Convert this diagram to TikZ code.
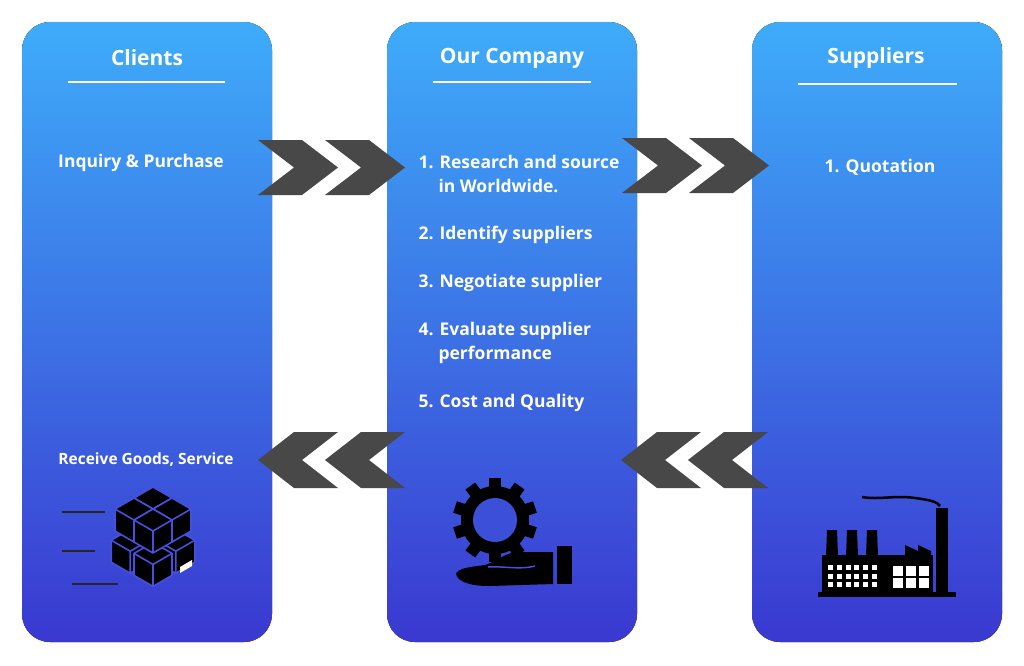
\documentclass[tikz,border=0pt]{standalone}
\usepackage{fontspec}
\setmainfont{Open Sans}
\begin{document}
\begin{tikzpicture}[x=1pt,y=-1pt,
  panel/.style={rounded corners=28pt,top color=topb,bottom color=botb,draw=none},
  chev/.style={fill=chevc,draw=none},
  title/.style={text=white,font=\fontsize{21}{24}\selectfont\bfseries},
  body/.style={text=white,font=\fontsize{17.5}{20}\selectfont\bfseries,anchor=west},
  uline/.style={white,line width=2.5pt},
  cedge/.style={draw=edgec,line width=1.6pt,line join=round},
  cube/.pic={\fill[black,cedge] (0,0)--(19,11)--(19,33)--(0,44)--(-19,33)--(-19,11)--cycle;
             \draw[cedge] (-19,11)--(0,22)--(19,11) (0,22)--(0,44);}
]
\definecolor{topb}{RGB}{62,172,250}
\definecolor{botb}{RGB}{58,56,208}
\definecolor{chevc}{RGB}{72,72,72}
\definecolor{edgec}{RGB}{70,80,220}
\useasboundingbox (0,0) rectangle (1024,665);
\fill[white] (0,0) rectangle (1024,665);
\fill[panel] (22,22) rectangle (272,642);
\fill[panel] (387,22) rectangle (637,642);
\fill[panel] (752,22) rectangle (1002,642);
% titles
\node[title] (tc) at (147,58) {Clients};
\node[title] (to) at (512,58) {Our Company};
\node[title] (ts) at (876,58) {Suppliers};
\draw[uline] (68,82)--(225,82);
\draw[uline] (433,82)--(591,82);
\draw[uline] (798,84)--(957,84);
% chevrons
\foreach \x/\y in {258/140,325/140,622/138,689/138}{
  \fill[chev] (\x,\y)--++(44,0)--++(36,27.5)--++(-36,27.5)--++(-44,0)--++(36,-27.5)--cycle;}
\foreach \x/\y in {405/432,338/432,768/432,701/432}{
  \fill[chev] (\x,\y)--++(-44,0)--++(-36,28)--++(36,28)--++(44,0)--++(-36,-28)--cycle;}
% texts
\node[body,anchor=center] (ip) at (141,163) {Inquiry \& Purchase};
\node[body] (m1) at (415,162) {1. Research and source};
\node[body] (m1b) at (435,186) {in Worldwide.};
\node[body] (m2) at (415,235) {2. Identify suppliers};
\node[body] (m3) at (415,283) {3. Negotiate supplier};
\node[body] (m4) at (415,331) {4. Evaluate supplier};
\node[body] (m4b) at (435,355) {performance};
\node[body] (m5) at (415,403) {5. Cost and Quality};
\node[body,anchor=center] (q) at (880,167) {1. Quotation};
\node[body,anchor=center,font=\fontsize{15.5}{18}\selectfont\bfseries] (rg) at (146,460) {Receive Goods, Service};
% boxes icon
\draw[line width=2pt,black!85] (62,512)--(105,512) (62,551)--(95,551) (72,584)--(118,584);
\begin{scope}[shift={(153,516)},scale=1.2]
\foreach \i/\j in {0/0,1/0,0/1,1/1}{
  \pic at ({19*\i-19*\j},{11*\i+11*\j}) {cube};}
\end{scope}
\fill[white!90!yellow] (180,567)--(192,560)--(192,566)--(180,573)--cycle;
\foreach \i/\j in {0/0,1/0,0/1,1/1}{
  \pic at ({153+19*\i-19*\j},{487+11*\i+11*\j}) {cube};}
% gear and hand
\fill[black] (495,520) circle (34);
\foreach \a in {0,36,...,324}{
  \fill[black,rotate around={\a:(495,520)}] (489,478) rectangle (501,490);}
\fill[botb!80!topb] (495,520) circle (22);
\fill[black] (557,546) rectangle (572,584);
\fill[black] (553,552)--(520,552) .. controls (505,552) and (500,560) .. (485,565)
  .. controls (470,567) and (458,568) .. (456,574) .. controls (458,582) and (470,586) .. (490,586)
  --(553,584)--cycle;
\draw[edgec,line width=1.5pt] (488,567) .. controls (505,566) and (520,570) .. (535,566);
% factory
\fill[black] (818,592) rectangle (956,597);
\fill[black] (822,555) rectangle (933,593);
\fill[black] (905,555)--(905,545)--(918,551)--(918,545)--(931,551)--(931,555)--cycle;
\foreach \x in {826,846,866}{\fill[black] (\x+1,530)--(\x+11,530)--(\x+12,556)--(\x,556)--cycle;}
\fill[black] (936,508) rectangle (948,593);
\draw[black,line width=2.5pt] (862,497) .. controls (880,500) and (895,495) .. (915,498) .. controls (930,500) and (938,502) .. (940,506);
\foreach \r in {0,1,2}{\foreach \c in {0,...,5}{
  \fill[white] ({828+8.8*\c},{565+8.5*\r}) rectangle ++(5,5);}}
\foreach \r in {0,1}{\foreach \c in {0,1,2}{
  \fill[white] ({893+13*\c},{566+12*\r}) rectangle ++(10,10);}}
\end{tikzpicture}
\end{document}
